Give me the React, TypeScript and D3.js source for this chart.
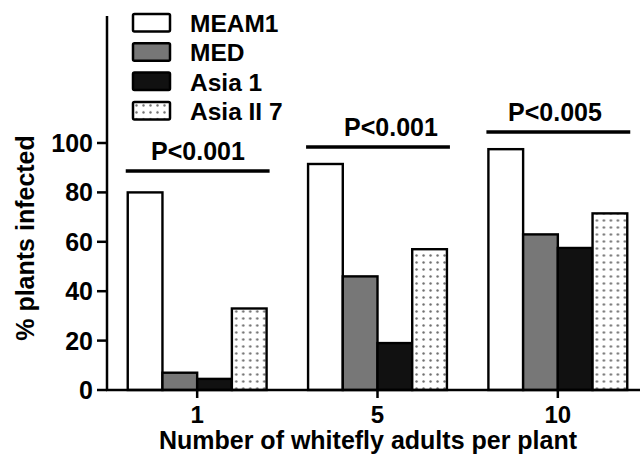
import React from "react";
import * as d3 from "d3";

const groups = ["1", "5", "10"];
const series = ["MEAM1", "MED", "Asia 1", "Asia II 7"];
const values = [
  [80, 7, 4.5, 33],
  [91.5, 46, 19, 57],
  [97.5, 63, 57.5, 71.5],
];
const yTicks = [0, 20, 40, 60, 80, 100];
const sigLabels = ["P<0.001", "P<0.001", "P<0.005"];
const sigLevels = [88.7, 98.4, 104.5];

export default function App() {
  const width = 640;
  const height = 462;
  const x0 = 107;
  const y0 = 390;
  const font = "'Liberation Sans', Arial, Helvetica, sans-serif";

  const x = d3
    .scaleBand<string>()
    .domain(groups)
    .range([x0, 648])
    .paddingInner(0.23)
    .paddingOuter(0.115);
  const xi = d3.scaleBand<string>().domain(series).range([0, x.bandwidth()]);
  const y = d3.scaleLinear().domain([0, 100]).range([y0, 143]);

  // fills per series
  const fills = ["#ffffff", "#777777", "#111111", "url(#dots)"];

  return (
    <svg
      width={width}
      height={height}
      style={{ position: "absolute", left: 0, top: 0, background: "#fff" }}
      fontFamily={font}
      fontWeight="bold"
    >
      <defs>
        <pattern id="dots" width={7} height={7} patternUnits="userSpaceOnUse">
          <rect width={7} height={7} fill="#fff" />
          <circle cx={3.5} cy={3.5} r={1.2} fill="#6e6e6e" />
        </pattern>
      </defs>

      {/* bars */}
      {groups.map((g, gi) => (
        <g key={g} transform={`translate(${x(g)},0)`}>
          {series.map((s, si) => (
            <rect
              key={s}
              x={xi(s)}
              y={y(values[gi][si])}
              width={xi.bandwidth()}
              height={y0 - y(values[gi][si])}
              fill={fills[si]}
              stroke="#000"
              strokeWidth={2.4}
            />
          ))}
        </g>
      ))}

      {/* significance lines */}
      {groups.map((g, gi) => {
        const left = (x(g) ?? 0) - 2;
        const right = (x(g) ?? 0) + x.bandwidth() + 3;
        const cx = [198, 391, 555][gi];
        return (
          <g key={g}>
            <line
              x1={left}
              x2={right}
              y1={y(sigLevels[gi])}
              y2={y(sigLevels[gi])}
              stroke="#000"
              strokeWidth={3.5}
            />
            <text x={cx} y={y(sigLevels[gi]) - 11} textAnchor="middle" fontSize={25}>
              {sigLabels[gi]}
            </text>
          </g>
        );
      })}

      {/* y axis */}
      <line x1={x0} x2={x0} y1={16} y2={y0 + 1} stroke="#000" strokeWidth={2.5} />
      {yTicks.map((t) => (
        <g key={t} transform={`translate(0,${y(t)})`}>
          <line x1={97} x2={x0} stroke="#000" strokeWidth={2.5} />
          <text x={93} dy="0.36em" textAnchor="end" fontSize={25}>
            {t}
          </text>
        </g>
      ))}
      <text
        transform={`translate(34,238) rotate(-90)`}
        textAnchor="middle"
        fontSize={25}
      >
        % plants infected
      </text>

      {/* x axis */}
      <line x1={x0 - 1} x2={width} y1={y0} y2={y0} stroke="#000" strokeWidth={2.5} />
      {groups.map((g) => {
        const cx = (x(g) ?? 0) + x.bandwidth() / 2;
        return (
          <g key={g}>
            <line x1={cx} x2={cx} y1={y0} y2={y0 + 8} stroke="#000" strokeWidth={2.5} />
            <text x={cx} y={423} textAnchor="middle" fontSize={24}>
              {g}
            </text>
          </g>
        );
      })}
      <text x={368} y={449} textAnchor="middle" fontSize={25}>
        Number of whitefly adults per plant
      </text>

      {/* legend */}
      {series.map((s, i) => (
        <g key={s} transform={`translate(133,${14 + i * 29.3})`}>
          <rect
            width={37}
            height={17.5}
            fill={fills[i]}
            stroke="#000"
            strokeWidth={2.5}
            rx={1.5}
          />
          <text x={57} y={18} fontSize={24.5}>
            {s}
          </text>
        </g>
      ))}
    </svg>
  );
}
